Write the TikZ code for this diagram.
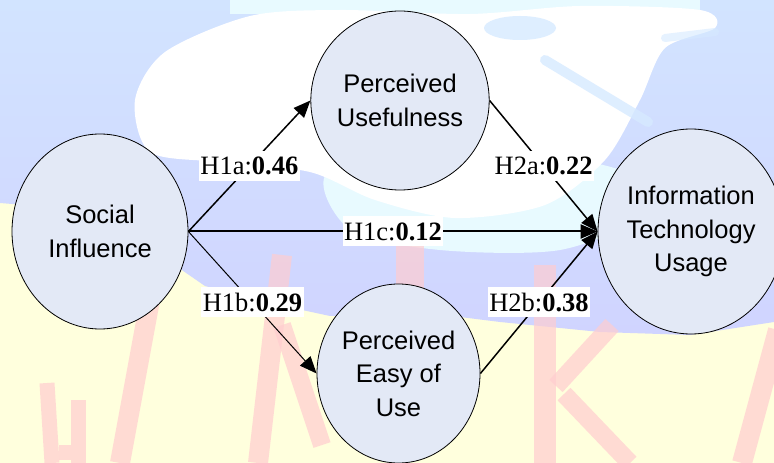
\documentclass[tikz,border=0pt]{standalone}
\usepackage{fontspec}
\newfontfamily\labsans{Liberation Sans}
\newfontfamily\labserif{Liberation Serif}
\usetikzlibrary{shapes.geometric,arrows.meta}

\definecolor{nodefill}{RGB}{227,233,246}
\definecolor{wmyellow}{RGB}{255,255,221}
\definecolor{wmblueA}{RGB}{210,228,255}
\definecolor{wmblueB}{RGB}{208,212,255}
\definecolor{wmcyan}{RGB}{232,250,255}
\definecolor{wmstreak}{RGB}{214,234,255}
\definecolor{wmpink}{RGB}{255,205,208}

\tikzset{
  concept/.style={ellipse, draw=black, line width=0.8bp, fill=nodefill,
    inner sep=0pt, align=center,
    font=\labsans\fontsize{25.5bp}{33.5bp}\selectfont},
  weight/.style={fill=white, inner xsep=1.5bp, inner ysep=0pt,
    minimum height=30bp, text=black,
    font=\labserif\fontsize{26.5bp}{30bp}\selectfont},
  link/.style={-{Triangle[length=17bp,width=14bp]}, black},
  stroke/.style={wmpink, opacity=0.7},
}

\begin{document}
\begin{tikzpicture}[x=1bp,y=-1bp]
\useasboundingbox (0,0) rectangle (774,463);

% faint watermark behind the model
\fill[wmyellow] (0,0) rectangle (774,463);
\shade[top color=wmblueA, bottom color=wmblueB]
  (0,0) -- (774,0) -- (774,322) -- (690,335) -- (600,332) -- (500,322)
  -- (420,312) -- (330,316) -- (265,302) -- (205,286) -- (160,255)
  -- (110,212) -- (0,203) -- cycle;
\fill[wmcyan] plot[smooth cycle] coordinates {(330,170) (480,150) (620,170)
  (640,215) (560,250) (440,250) (350,230)};
\fill[wmcyan] (230,0) rectangle (700,14);
\fill[white] plot[smooth cycle] coordinates {(250,16) (340,10) (470,14) (580,6)
  (700,10) (715,28) (665,48) (640,100) (605,160) (545,205) (455,218)
  (375,200) (310,172) (220,162) (150,152) (135,100) (165,52)};
\fill[wmstreak, opacity=0.8] (520,28) ellipse [x radius=36bp, y radius=12bp];
\draw[wmstreak, line width=10bp, line cap=round, opacity=0.8] (545,60) -- (648,122);
\draw[wmstreak, line width=8bp, line cap=round, opacity=0.6] (665,38) -- (715,32);

\begin{scope}[stroke]
  \draw[line width=15bp] (47,383) -- (52,463);
  \draw[line width=15bp] (78,400) -- (78,463);
  \draw[line width=15bp] (59,452) -- (71,452);
  \draw[line width=20bp] (150,300) -- (120,463);
  \draw[line width=20bp] (282,255) -- (258,463);
  \draw[line width=18bp] (282,325) -- (322,445);
  \draw[line width=28bp] (410,240) -- (410,300);
  \draw[line width=22bp] (545,265) -- (545,463);
  \draw[line width=18bp] (612,325) -- (556,386);
  \draw[line width=18bp] (564,394) -- (630,463);
  \draw[line width=20bp] (778,330) -- (742,463);
\end{scope}

% constructs
\node[concept, minimum width=176bp, minimum height=195bp] (soc) at (100,231.5)
  {Social\\Influence};
\node[concept, minimum width=162bp, minimum height=179bp] (pu) at (400,100.5)
  {Perceived\\Usefulness};
\node[concept, minimum width=163bp, minimum height=179bp] (peou) at (398.5,373.5)
  {Perceived\\Easy of\\Use};
\node[concept, minimum width=186bp, minimum height=205bp] (it) at (691,231.5)
  {Information\\Technology\\Usage};

% hypothesised paths with coefficients
\draw[link, line width=1.5bp] (soc.east) -- node[weight] {H1a:\textbf{0.46}} (pu.west);
\draw[link, line width=1bp] (soc.east) -- node[weight] {H1b:\textbf{0.29}} (peou.west);
\draw[link, line width=2bp] (soc.east) -- node[weight] {H1c:\textbf{0.12}} (it.west);
\draw[link, line width=1.5bp] (pu.east) -- node[weight] {H2a:\textbf{0.22}} (it.west);
\draw[link, line width=1.5bp] (peou.east) -- node[weight] {H2b:\textbf{0.38}} (it.west);
\end{tikzpicture}
\end{document}
